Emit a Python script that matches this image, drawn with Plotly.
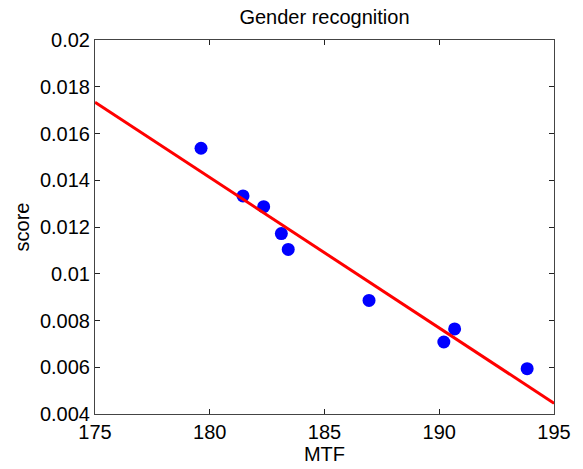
import plotly.graph_objects as go

# Measured points: MTF vs. gender recognition score
mtf = [179.62, 181.45, 182.35, 183.12, 183.42, 186.94, 190.2, 190.67, 193.83]
score = [0.01537, 0.01333, 0.01287, 0.01172, 0.01104, 0.00886, 0.00708, 0.00764, 0.00594]

# Least-squares trend line endpoints
fit_x = [175, 195]
fit_y = [0.01734, 0.00446]

x_ticks = [175, 180, 185, 190, 195]
y_ticks = [0.004, 0.006, 0.008, 0.01, 0.012, 0.014, 0.016, 0.018, 0.02]
y_labels = ["0.004", "0.006", "0.008", "0.01", "0.012", "0.014", "0.016", "0.018", "0.02"]

font = "Arial, Liberation Sans, sans-serif"

fig = go.Figure()
fig.add_trace(go.Scatter(
    x=mtf, y=score, mode="markers",
    marker=dict(color="#0000ff", size=13, line=dict(width=0)),
    showlegend=False,
))
fig.add_trace(go.Scatter(
    x=fit_x, y=fit_y, mode="lines",
    line=dict(color="#ff0000", width=3),
    showlegend=False, cliponaxis=True,
))

axis_common = dict(
    showgrid=False, zeroline=False,
    showline=True, linecolor="#444444", linewidth=1,
    mirror="ticks", ticks="inside", ticklen=5, tickcolor="#222222",
    tickfont=dict(family=font, size=20, color="#000000"),
)

fig.update_layout(
    width=583, height=469,
    margin=dict(l=95, r=20, t=40, b=52),
    paper_bgcolor="white", plot_bgcolor="white",
    title=dict(text="Gender recognition", x=0.5, xanchor="center",
               y=1 - 17 / 469, yanchor="middle",
               xref="paper",
               font=dict(family=font, size=20, color="#000000")),
    xaxis=dict(range=[175, 195], tickvals=x_ticks,
               title=dict(text="MTF", standoff=0,
                          font=dict(family=font, size=20, color="#000000")),
               **axis_common),
    yaxis=dict(range=[0.004, 0.02], tickvals=y_ticks, ticktext=y_labels,
               title=dict(text="score", standoff=4,
                          font=dict(family=font, size=20, color="#000000")),
               **axis_common),
)

fig.write_html("out.html")
